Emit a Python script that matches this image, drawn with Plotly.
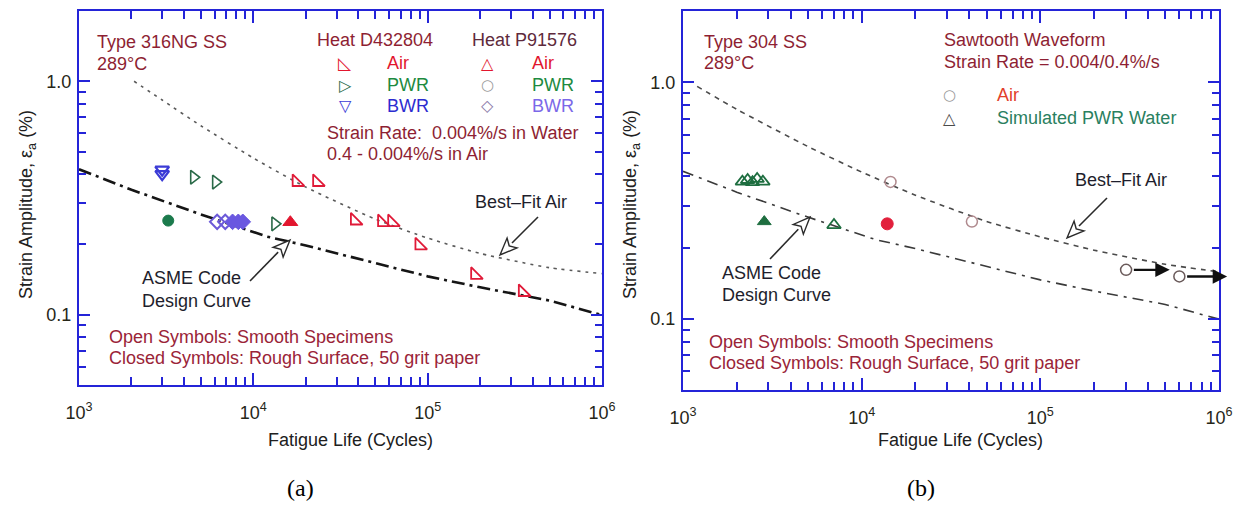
import math
import plotly.graph_objects as go

W, H = 1241, 508
FONT = "Liberation Sans, Arial, sans-serif"
BLUE = "#2424d8"
TICKC = "#262618"
DARKRED = "#8e1f33"
RED = "#e2162e"
GREEN = "#1d7f46"
NAVY = "#1e1e2c"

# ---------------- data : panel (a) Type 316NG SS ----------------
a_fit_N = [2070, 3000, 5000, 1e4, 2e4, 5e4, 1e5, 2e5, 5e5, 1e6]
a_fit_e = [1.0, 0.831, 0.645, 0.469, 0.352, 0.257, 0.213, 0.183, 0.159, 0.150]

asme_N = [1e3, 2e3, 5e3, 1e4, 1.2e4, 2e4, 5e4, 1e5, 2e5, 5e5, 1e6]
asme_e = [0.420, 0.343, 0.269, 0.226, 0.216, 0.198, 0.166, 0.146, 0.131, 0.115, 0.0996]

a_d_air_N = [17700, 23200, 38200, 54700, 62500, 89600, 187000, 351000]
a_d_air_e = [0.370, 0.370, 0.253, 0.249, 0.249, 0.198, 0.148, 0.125]
a_d_pwr_N = [4550, 6080, 13300]
a_d_pwr_e = [0.388, 0.370, 0.245]
a_d_bwr_N = [3000, 3000]
a_d_bwr_e = [0.418, 0.400]
a_p_air_rough_N = [16300]
a_p_air_rough_e = [0.249]
a_p_pwr_rough_N = [3250]
a_p_pwr_rough_e = [0.253]
a_p_bwr_N = [6200, 6900]
a_p_bwr_e = [0.250, 0.250]
a_p_bwr_rough_N = [7600, 8200, 8700]
a_p_bwr_rough_e = [0.250, 0.250, 0.250]

# ---------------- data : panel (b) Type 304 SS ----------------
b_fit_N = [1200, 2000, 5000, 1e4, 2e4, 5e4, 1e5, 2e5, 5e5, 1e6]
b_fit_e = [0.96, 0.768, 0.535, 0.417, 0.333, 0.258, 0.222, 0.195, 0.170, 0.158]

b_air_N = [14500, 41400]
b_air_e = [0.379, 0.2575]
b_air_rough_N = [13900]
b_air_rough_e = [0.252]
b_runout_N = [302000, 600000]
b_runout_e = [0.161, 0.151]
b_runout_to = [530000, 1110000]
b_pwr_N = [2150, 2300, 2450, 2600, 2800, 7000]
b_pwr_e = [0.380, 0.386, 0.378, 0.390, 0.380, 0.249]
b_pwr_rough_N = [2850]
b_pwr_rough_e = [0.2575]

# ---------------- axis ticks ----------------
x_major = [1e3, 1e4, 1e5, 1e6]
x_ticktext = ["10<sup>3</sup>", "10<sup>4</sup>", "10<sup>5</sup>", "10<sup>6</sup>"]
x_minor = [k * 10 ** d for d in (3, 4, 5) for k in range(2, 10)]
y_major = [0.1, 1.0]
y_ticktext = ["0.1", "1.0"]
y_minor = [0.06, 0.07, 0.08, 0.09, 0.2, 0.3, 0.4, 0.5, 0.6, 0.7, 0.8, 0.9]

fig = go.Figure()


def line(xs, ys, ax, color, width, dash, shape="spline"):
    fig.add_trace(go.Scatter(x=xs, y=ys, mode="lines", xaxis=ax[0], yaxis=ax[1],
                             line=dict(color=color, width=width, dash=dash, shape=shape, smoothing=0.6),
                             showlegend=False, hoverinfo="skip"))


def pts(xs, ys, ax, symbol, color, size=11, lw=1.8, fill=None):
    fig.add_trace(go.Scatter(x=xs, y=ys, mode="markers", xaxis=ax[0], yaxis=ax[1],
                             marker=dict(symbol=symbol, size=size, color=fill if fill else color,
                                         line=dict(color=color, width=lw)),
                             showlegend=False, cliponaxis=False))


A = ("x", "y")
B = ("x2", "y2")

# panel a curves
line(a_fit_N, a_fit_e, A, "#5a5a5a", 1.6, "3px,5px")
line(asme_N, asme_e, A, "#151515", 2.6, "13px,5px,3px,5px", "linear")
# panel a points
pts(a_d_bwr_N, a_d_bwr_e, A, "triangle-down-open", "#3b3bd6", 12, 2.2)
pts(a_d_pwr_N, a_d_pwr_e, A, "triangle-right-open", "#2a6a48", 12, 1.6)
pts(a_p_pwr_rough_N, a_p_pwr_rough_e, A, "circle", "#1b7a4c", 11, 1)
pts(a_p_bwr_N, a_p_bwr_e, A, "diamond-open", "#6c5ad8", 11, 2)
pts(a_p_bwr_rough_N, a_p_bwr_rough_e, A, "diamond", "#6a58e0", 12, 1)
pts(a_p_air_rough_N, a_p_air_rough_e, A, "triangle-up", RED, 13, 1)
pts(a_d_air_N, a_d_air_e, A, "triangle-sw-open", "#e01a38", 13, 1.8)

# panel b curves
line(b_fit_N, b_fit_e, B, "#4a4a4a", 1.6, "5px,5px")
line(asme_N, asme_e, B, "#3a3a3a", 1.6, "11px,6px,3px,6px", "linear")
# panel b points
pts(b_pwr_N, b_pwr_e, B, "triangle-up-open", "#1e6e40", 12, 1.8)
pts(b_pwr_rough_N, b_pwr_rough_e, B, "triangle-up", "#1e6e40", 12, 1)
pts(b_air_N, b_air_e, B, "circle-open", "#b08a8e", 11, 1.5)
pts(b_air_rough_N, b_air_rough_e, B, "circle", "#e2203c", 12, 1)
pts(b_runout_N, b_runout_e, B, "circle-open", "#6a5a5a", 11, 1.5)

annotations = []
for n0, e0, n1 in zip(b_runout_N, b_runout_e, b_runout_to):
    annotations.append(dict(x=math.log10(n1), y=math.log10(e0), xref="x2", yref="y2",
                            ax=math.log10(n0) + 0.035, ay=math.log10(e0), axref="x2", ayref="y2",
                            showarrow=True, arrowhead=2, arrowsize=1.2, arrowwidth=2.4,
                            arrowcolor="#101010", text=""))


def P(px, py):
    return px / W, 1 - py / H


def txt(px, py, s, color=DARKRED, size=18, anchor="left", family=FONT, angle=0):
    x, y = P(px, py)
    annotations.append(dict(x=x, y=y, xref="paper", yref="paper", text=s, showarrow=False,
                            xanchor=anchor, yanchor="middle", align="left", textangle=angle,
                            font=dict(family=family, size=size, color=color)))


# panel a texts
txt(95, 42, "Type 316NG SS")
txt(95, 64, "289°C")
txt(315, 40, "Heat D432804")
txt(470, 40, "Heat P91576", color="#5e2a3c")
txt(345, 63, "◺", color=RED, size=17, anchor="center", family="DejaVu Sans")
txt(345, 85, "▷", color="#2a6a48", size=16, anchor="center", family="DejaVu Sans")
txt(345, 106, "▽", color="#3b3bd6", size=16, anchor="center", family="DejaVu Sans")
txt(385, 63, "Air", color=RED)
txt(385, 85, "PWR", color="#1d8a40")
txt(385, 106, "BWR", color="#2c2cd0")
txt(487, 63, "△", color=RED, size=16, anchor="center", family="DejaVu Sans")
txt(487, 85, "○", color="#9a9a9a", size=15, anchor="center", family="DejaVu Sans")
txt(487, 106, "◇", color="#8a7aa8", size=16, anchor="center", family="DejaVu Sans")
txt(530, 63, "Air", color=RED)
txt(530, 85, "PWR", color="#1d8a40")
txt(530, 106, "BWR", color="#7b68e8")
txt(325, 133, "Strain Rate:  0.004%/s in Water")
txt(325, 154, "0.4 - 0.004%/s in Air")
txt(473, 202, "Best–Fit Air", color=NAVY)
txt(140, 278, "ASME Code", color=NAVY)
txt(140, 301, "Design Curve", color=NAVY)
txt(107, 337, "Open Symbols: Smooth Specimens", color="#9a2438")
txt(107, 358, "Closed Symbols: Rough Surface, 50 grit paper", color="#9a2438")
txt(28, 205, "Strain Amplitude, ε<sub>a</sub> (%)", color="#202020", anchor="center", angle=-90)
txt(350, 440, "Fatigue Life (Cycles)", color="#202020", anchor="center")
txt(300, 488, "(a)", color="#000000", size=24, anchor="center", family="Liberation Serif, Times New Roman, serif")

# panel b texts
txt(702, 42, "Type 304 SS")
txt(702, 63, "289°C")
txt(942, 40, "Sawtooth Waveform")
txt(942, 62, "Strain Rate = 0.004/0.4%/s")
txt(950, 95, "○", color="#9a9a9a", size=15, anchor="center", family="DejaVu Sans")
txt(950, 118, "△", color="#4a4a4a", size=16, anchor="center", family="DejaVu Sans")
txt(995, 95, "Air", color="#e2402a")
txt(995, 118, "Simulated PWR Water", color="#2a8060")
txt(1073, 180, "Best–Fit Air", color=NAVY)
txt(720, 273, "ASME Code", color=NAVY)
txt(720, 295, "Design Curve", color=NAVY)
txt(707, 342, "Open Symbols: Smooth Specimens", color="#9a2438")
txt(707, 363, "Closed Symbols: Rough Surface, 50 grit paper", color="#9a2438")
txt(632, 205, "Strain Amplitude, ε<sub>a</sub> (%)", color="#202020", anchor="center", angle=-90)
txt(960, 440, "Fatigue Life (Cycles)", color="#202020", anchor="center")
txt(921, 488, "(b)", color="#000000", size=24, anchor="center", family="Liberation Serif, Times New Roman, serif")

shapes = []


def open_arrow(tail, head, L=17, hw=7, color="#2a2a2a"):
    tx, ty = tail
    hx, hy = head
    dx, dy = hx - tx, hy - ty
    d = math.hypot(dx, dy)
    ux, uy = dx / d, dy / d
    bx, by = hx - ux * L, hy - uy * L
    nx, ny = -uy, ux

    def S(x, y):
        a, b = P(x, y)
        return f"{a:.5f},{b:.5f}"
    shapes.append(dict(type="path", xref="paper", yref="paper",
                       path=f"M{S(tx, ty)} L{S(bx, by)}", line=dict(color=color, width=1.6)))
    shapes.append(dict(type="path", xref="paper", yref="paper",
                       path=f"M{S(hx, hy)} L{S(bx + nx * hw, by + ny * hw)} L{S(bx + ux * 4, by + uy * 4)} L{S(bx - nx * hw, by - ny * hw)} Z",
                       line=dict(color=color, width=1.4), fillcolor="white"))


open_arrow((538, 217), (500, 255))
open_arrow((250, 281), (290, 240))
open_arrow((1107, 198), (1067, 238))
open_arrow((770, 259), (810, 217))


def xcfg(domain, anchor):
    return dict(type="log", range=[3, 6], domain=domain, anchor=anchor,
                showline=True, linecolor=BLUE, linewidth=2, mirror="ticks",
                ticks="inside", ticklen=12, tickwidth=1.5, tickcolor=BLUE,
                tickmode="array", tickvals=x_major, ticktext=x_ticktext,
                minor=dict(tickmode="array", tickvals=x_minor, ticks="inside", ticklen=8,
                           tickwidth=1.5, tickcolor=BLUE, showgrid=False),
                showgrid=False, zeroline=False, ticklabelstandoff=10,
                tickfont=dict(family=FONT, size=18, color=TICKC))


def ycfg(domain, anchor):
    return dict(type="log", range=[math.log10(0.05), math.log10(2)], domain=domain, anchor=anchor,
                showline=True, linecolor=BLUE, linewidth=2, mirror="ticks",
                ticks="inside", ticklen=11, tickwidth=1.5, tickcolor=BLUE,
                tickmode="array", tickvals=y_major, ticktext=y_ticktext,
                minor=dict(tickmode="array", tickvals=y_minor, ticks="inside", ticklen=7,
                           tickwidth=1.5, tickcolor=BLUE, showgrid=False),
                showgrid=False, zeroline=False, ticklabelstandoff=2,
                tickfont=dict(family=FONT, size=18, color=TICKC))


fig.update_layout(
    width=W, height=H, margin=dict(l=0, r=0, t=0, b=0, autoexpand=False),
    paper_bgcolor="white", plot_bgcolor="white", showlegend=False,
    xaxis=xcfg([79 / W, 602 / W], "y"),
    yaxis=ycfg([(H - 385) / H, (H - 11) / H], "x"),
    xaxis2=xcfg([683 / W, 1219 / W], "y2"),
    yaxis2=ycfg([(H - 390) / H, (H - 11) / H], "x2"),
    annotations=annotations, shapes=shapes,
)

fig.write_html("out.html", config={"displayModeBar": False},
               post_script="document.body.style.margin='0px';document.body.style.overflow='hidden';")
